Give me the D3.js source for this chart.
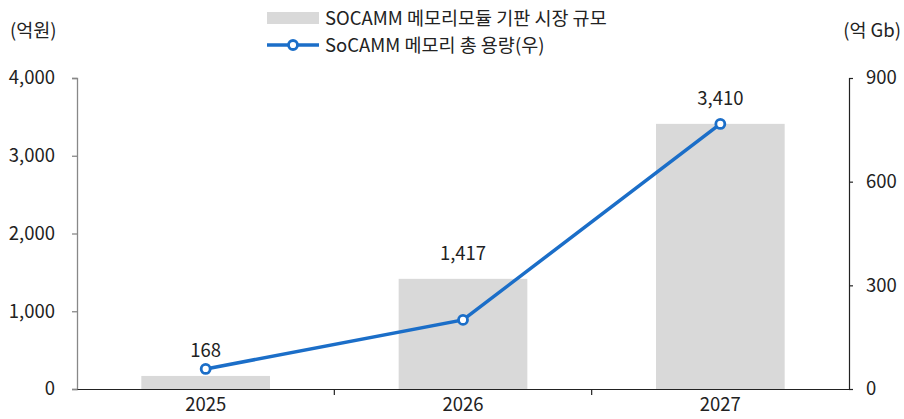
<!DOCTYPE html>
<html><head><meta charset="utf-8">
<script src="https://cdn.jsdelivr.net/npm/d3@7"></script>
<style>
body{margin:0;background:#fff;}
text{font-family:"Noto Sans CJK KR","Noto Sans",sans-serif;}
</style></head>
<body><svg id="c" width="904" height="419"></svg>
<script>
const categories = ["2025","2026","2027"];
const marketSize = [168, 1417, 3410];          // 억원 (left)
const totalCapacity = [58, 200, 767];           // 억 Gb (right)
const leftTicks = [0,1000,2000,3000,4000];
const rightTicks = [0,300,600,900];
const legendLabels = ["SOCAMM 메모리모듈 기판 시장 규모","SoCAMM 메모리 총 용량(우)"];

const FS = 18.5;
const svg = d3.select("#c");
const L = 77, R = 849, T = 78, B = 389;
const blue = "#1b6ec8", gray = "#d9d9d9", txt = "#222";

const x = d3.scaleBand().domain(categories).range([L, R]).paddingInner(0).paddingOuter(0);
const yL = d3.scaleLinear().domain([0,4000]).range([B,T]);
const yR = d3.scaleLinear().domain([0,900]).range([B,T]);

// bars
const bw = x.bandwidth()*0.5;
svg.selectAll("rect.bar").data(marketSize).join("rect")
  .attr("x",(d,i)=>x(categories[i])+x.bandwidth()/2-bw/2)
  .attr("y",d=>yL(d)).attr("width",bw).attr("height",d=>B-yL(d)).attr("fill",gray);

// left axis
const gL = svg.append("g").attr("transform",`translate(${L},0)`)
  .call(d3.axisLeft(yL).tickValues(leftTicks).tickFormat(d3.format(",")).tickSizeOuter(0).tickSize(5).tickPadding(17));
gL.selectAll("path,line").attr("stroke","#888").attr("stroke-width",1.3);
gL.selectAll("text").attr("font-size",FS).attr("fill",txt).style("font-family",'"Noto Sans CJK KR",sans-serif');

// right axis
const gR = svg.append("g").attr("transform",`translate(${R},0)`)
  .call(d3.axisRight(yR).tickValues(rightTicks).tickSizeOuter(0).tickSize(4).tickPadding(13));
gR.selectAll("path,line").attr("stroke","#222").attr("stroke-width",1.2);
gR.selectAll("text").attr("font-size",FS).attr("fill",txt).style("font-family",'"Noto Sans CJK KR",sans-serif');

// bottom axis
const gB = svg.append("g").attr("transform",`translate(0,${B})`)
  .call(d3.axisBottom(x).tickSize(0).tickPadding(9));
gB.select("path").attr("stroke","#222").attr("stroke-width",1.2);
gB.selectAll("text").attr("font-size",FS).attr("fill",txt).style("font-family",'"Noto Sans CJK KR",sans-serif');
categories.slice(1).forEach(c=>{
  gB.append("line").attr("x1",x(c)).attr("x2",x(c)).attr("y1",0).attr("y2",6).attr("stroke","#222").attr("stroke-width",1.2);
});

// bar labels
svg.selectAll("text.bl").data(marketSize).join("text")
  .attr("x",(d,i)=>x(categories[i])+x.bandwidth()/2)
  .attr("y",d=>yL(d)-19).attr("text-anchor","middle")
  .attr("font-size",FS).attr("fill",txt).text(d=>d3.format(",")(d));

// line
const line = d3.line().x((d,i)=>x(categories[i])+x.bandwidth()/2).y(d=>yR(d));
svg.append("path").datum(totalCapacity).attr("d",line).attr("fill","none")
  .attr("stroke",blue).attr("stroke-width",3.5);
svg.selectAll("circle.pt").data(totalCapacity).join("circle")
  .attr("cx",(d,i)=>x(categories[i])+x.bandwidth()/2).attr("cy",d=>yR(d))
  .attr("r",4.5).attr("fill","#fff").attr("stroke",blue).attr("stroke-width",2.8);

// unit labels
svg.append("text").attr("x",10).attr("y",37).attr("font-size",FS).attr("fill",txt).text("(억원)");
svg.append("text").attr("x",901).attr("y",37).attr("text-anchor","end").attr("font-size",FS).attr("fill",txt).text("(억 Gb)");

// legend
svg.append("rect").attr("x",267).attr("y",12).attr("width",52).attr("height",12).attr("fill",gray);
svg.append("text").attr("x",325).attr("y",25).attr("font-size",FS).attr("fill",txt).text(legendLabels[0]);
svg.append("line").attr("x1",267).attr("x2",319).attr("y1",45).attr("y2",45).attr("stroke",blue).attr("stroke-width",3.5);
svg.append("circle").attr("cx",293).attr("cy",45).attr("r",4.5).attr("fill","#fff").attr("stroke",blue).attr("stroke-width",2.8);
svg.append("text").attr("x",325).attr("y",52).attr("font-size",FS).attr("fill",txt).text(legendLabels[1]);
</script></body></html>
